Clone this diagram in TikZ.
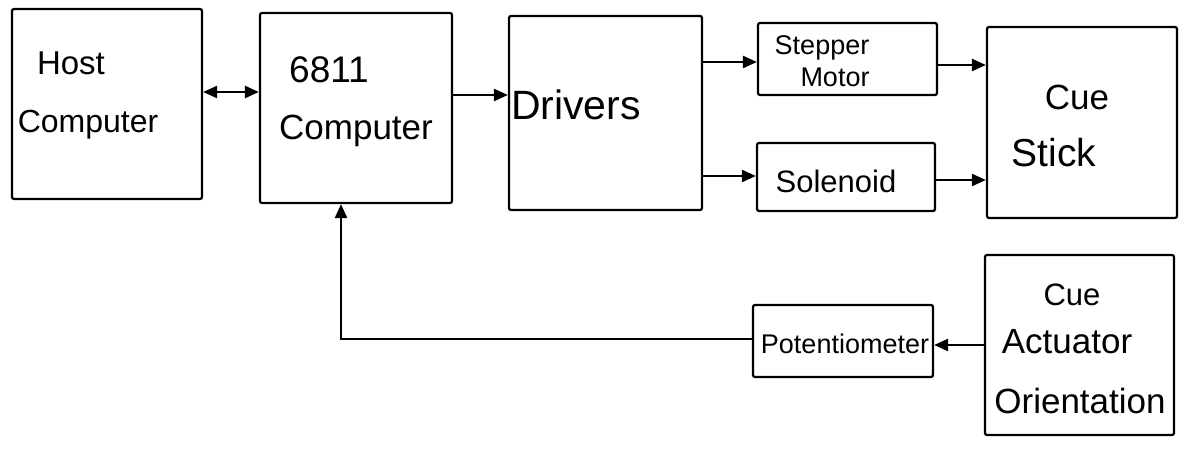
\documentclass[tikz,border=0pt]{standalone}
\usepackage{fontspec}
\setmainfont{Liberation Sans}
\usetikzlibrary{arrows.meta}
\begin{document}
\begin{tikzpicture}[x=1pt,y=-1pt,
  box/.style={draw, line width=2.2pt, rounded corners=2pt, inner sep=0pt},
  lbl/.style={inner sep=0pt, anchor=base},
  conn/.style={line width=2.4pt, -{Triangle[length=14pt,width=12pt]}},
  biconn/.style={line width=2.4pt, {Triangle[length=14pt,width=12pt]}-{Triangle[length=14pt,width=12pt]}},
  fs/.style={font=\fontsize{#1}{#1}\selectfont}]
\useasboundingbox[fill=white] (0,0) rectangle (1180,449);
% boxes
\node[box, minimum width=190pt, minimum height=190pt] (host) at (107,104) {};
\node[box, minimum width=192pt, minimum height=190pt] (mcu) at (356,108) {};
\node[box, minimum width=193pt, minimum height=194pt] (drv) at (605.5,113) {};
\node[box, minimum width=179pt, minimum height=72pt] (step) at (847.5,59) {};
\node[box, minimum width=178pt, minimum height=68pt] (sol) at (846,177) {};
\node[box, minimum width=190pt, minimum height=191pt] (cue) at (1082,122.5) {};
\node[box, minimum width=180pt, minimum height=72pt] (pot) at (843,341) {};
\node[box, minimum width=189pt, minimum height=180pt] (act) at (1079.5,345) {};
% texts
\node[lbl, fs=33] (hostA) at (71,75) {Host};
\node[lbl, fs=32] (hostB) at (88,133) {Computer};
\node[lbl, fs=37] (mcuA) at (329,83) {6811};
\node[lbl, fs=35] (mcuB) at (356,140) {Computer};
\node[lbl, fs=41] (drvA) at (576,120) {Drivers};
\node[lbl, fs=27] (stepA) at (822,55) {Stepper};
\node[lbl, fs=27] (stepB) at (835,87) {Motor};
\node[lbl, fs=31] (solA) at (836,193) {Solenoid};
\node[lbl, fs=35] (cueA) at (1077,110) {Cue};
\node[lbl, fs=39] (cueB) at (1054,167) {Stick};
\node[lbl, fs=27] (potA) at (845,353) {Potentiometer};
\node[lbl, fs=31] (actA) at (1072,305) {Cue};
\node[lbl, fs=35] (actB) at (1067,353) {Actuator};
\node[lbl, fs=35] (actC) at (1080,413) {Orientation};
% connectors
\draw[biconn] (host.east |- 0,92) -- (mcu.west |- 0,92);
\draw[conn] (mcu.east |- 0,95) -- (drv.west |- 0,95);
\draw[conn] (drv.east |- 0,62) -- (step.west |- 0,62);
\draw[conn] (drv.east |- 0,176) -- (sol.west |- 0,176);
\draw[conn] (step.east |- 0,65) -- (cue.west |- 0,65);
\draw[conn] (sol.east |- 0,180) -- (cue.west |- 0,180);
\draw[conn] (act.west |- 0,345) -- (pot.east |- 0,345);
\coordinate (fbin) at (341,0);
\draw[conn] (pot.west |- 0,339) -| (mcu.south -| fbin);
\end{tikzpicture}
\end{document}
